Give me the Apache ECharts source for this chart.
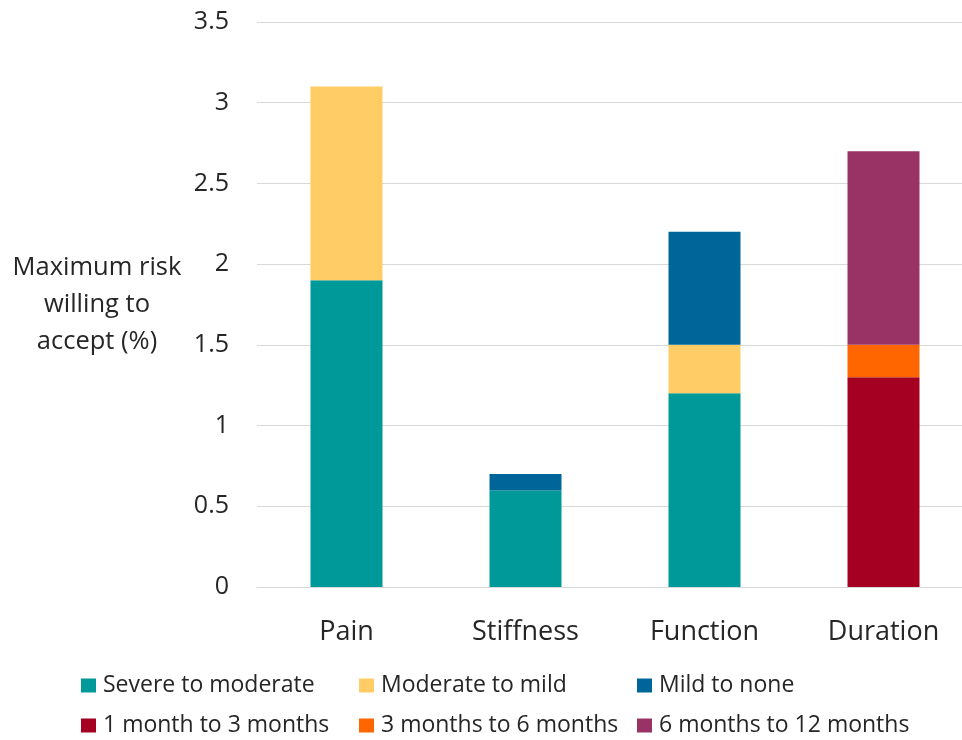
<!DOCTYPE html>
<html>
<head>
<meta charset="utf-8">
<style>
  html, body { margin: 0; padding: 0; background: #ffffff; }
  #chart { width: 962px; height: 740px; }
</style>
<script src="https://cdn.jsdelivr.net/npm/echarts@6/dist/echarts.min.js"></script>
</head>
<body>
<div id="chart"></div>
<script>
// Attribute categories on the x axis
const categories = ['Pain', 'Stiffness', 'Function', 'Duration'];

// Stacked segments (maximum acceptable risk, %)
const severeToModerate = [1.9, 0.6, 1.2, null];
const moderateToMild   = [1.2, null, 0.3, null];
const mildToNone       = [null, 0.1, 0.7, null];
const oneToThreeMonths = [null, null, null, 1.3];
const threeToSixMonths = [null, null, null, 0.2];
const sixToTwelveMonths = [null, null, null, 1.2];

const seriesNames = [
  'Severe to moderate', 'Moderate to mild', 'Mild to none',
  '1 month to 3 months', '3 months to 6 months', '6 months to 12 months'
];
const seriesValues = [
  severeToModerate, moderateToMild, mildToNone,
  oneToThreeMonths, threeToSixMonths, sixToTwelveMonths
];
const seriesColors = ['#009999', '#FFCC66', '#006699', '#A50021', '#FF6600', '#993366'];

const font = "'Open Sans', 'Noto Sans', sans-serif";
const textColor = '#262626';

const chart = echarts.init(document.getElementById('chart'), null, { renderer: 'canvas' });

// One legend per item so the entries sit in fixed columns
const legendCols = [81, 359, 637];
const legendRows = [674, 714];
const legends = seriesNames.map((name, i) => ({
  data: [name],
  left: legendCols[i % 3],
  top: legendRows[Math.floor(i / 3)],
  padding: 0,
  itemWidth: 15,
  itemHeight: 14,
  itemGap: 0,
  icon: 'rect',
  selectedMode: false,
  textStyle: { fontFamily: font, fontSize: 23, color: textColor, padding: [0, 0, 0, 2] }
}));

chart.setOption({
  animation: false,
  backgroundColor: '#ffffff',
  color: seriesColors,
  grid: { left: 257, top: 22, width: 716, height: 565, containLabel: false, outerBoundsMode: 'none' },
  legend: legends,
  xAxis: {
    type: 'category',
    data: categories,
    axisLine: { show: true, lineStyle: { color: '#d9d9d9', width: 1 } },
    axisTick: { show: false },
    axisLabel: { fontFamily: font, fontSize: 27, color: textColor, margin: 32 }
  },
  yAxis: {
    type: 'value',
    min: 0,
    max: 3.5,
    interval: 0.5,
    name: 'Maximum risk\nwilling to\naccept (%)',
    nameLocation: 'middle',
    nameRotate: 0,
    nameGap: 160,
    nameTextStyle: { fontFamily: font, fontSize: 25.5, color: textColor, align: 'center', verticalAlign: 'middle', lineHeight: 37, padding: [4, 0, 0, 0] },
    axisLine: { show: false },
    axisTick: { show: false },
    splitLine: { lineStyle: { color: '#d9d9d9', width: 1 } },
    axisLabel: { fontFamily: font, fontSize: 25, color: textColor, margin: 28 }
  },
  series: seriesNames.map((name, i) => ({
    name: name,
    type: 'bar',
    stack: 'total',
    barWidth: 72,
    data: seriesValues[i],
    itemStyle: { color: seriesColors[i] }
  }))
});
</script>
</body>
</html>
